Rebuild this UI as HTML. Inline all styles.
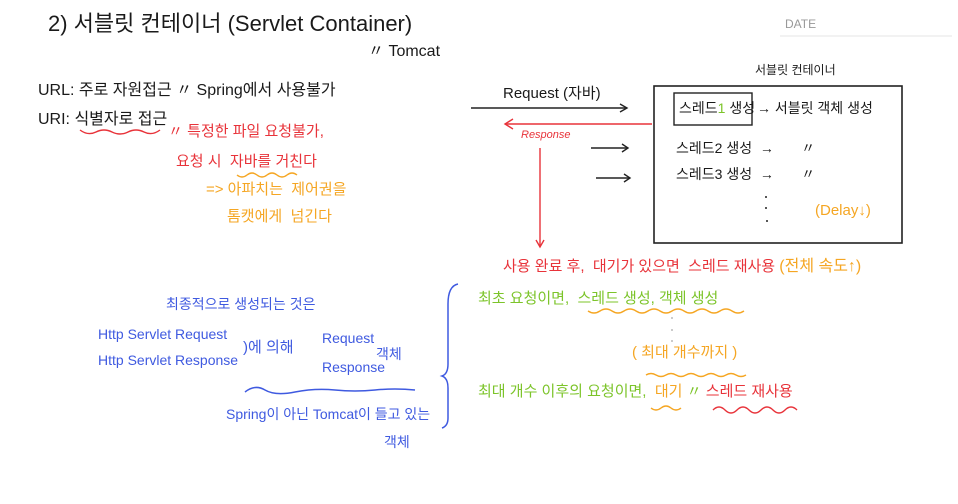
<!DOCTYPE html>
<html><head><meta charset="utf-8"><style>
body{margin:0;width:958px;height:504px;background:#fff;overflow:hidden;position:relative;font-family:"Liberation Sans","Noto Sans CJK KR",sans-serif;}
.t{position:absolute;white-space:nowrap;line-height:1;}
.k{color:#1a1a1a}.r{color:#e8333a}.o{color:#f5a623}.g{color:#7cc42a}.b{color:#3f5ae0}
svg{position:absolute;left:0;top:0}
</style></head><body>
<svg width="958" height="504">
<line x1="780" y1="36" x2="952" y2="36" stroke="#e6e6e6" stroke-width="1"/>
<rect x="654" y="86" width="248" height="157" fill="none" stroke="#222" stroke-width="1.6"/>
<rect x="674" y="93" width="78" height="32" fill="none" stroke="#222" stroke-width="1.4"/>
<g stroke="#222" stroke-width="1.4" fill="none">
<line x1="471" y1="108" x2="627" y2="108"/><polyline points="620,104 627,108 620,112"/>
<line x1="591" y1="148" x2="628" y2="148"/><polyline points="622,144 628,148 622,152"/>
<line x1="596" y1="178" x2="630" y2="178"/><polyline points="624,174 630,178 624,182"/>
</g>
<g stroke="#e8333a" stroke-width="1.4" fill="none">
<line x1="652" y1="124" x2="505" y2="124"/><polyline points="513,119 505,124 513,129"/>
<line x1="540" y1="148" x2="540" y2="247"/><polyline points="536,240 540,247 544,240"/>
<path d="M80 130 q8 6 16 2 t16 0 t16 0 t16 0 t16 -2"/>
<path d="M713 410 q6 -6 12 0 t12 0 t12 0 t12 0 t12 0 t12 0 t12 0"/>
</g>
<g stroke="#f5a623" stroke-width="1.4" fill="none">
<path d="M237 175 q5 4 10 0 t10 0 t10 0 t10 0 t10 0 t10 0"/>
<path d="M588 311 q6 4 12 0 t12 0 t12 0 t12 0 t12 0 t12 0 t12 0 t12 0 t12 0 t12 0 t12 0 t12 0 t12 0"/>
<path d="M646 375 q5 -3 10 0 t10 0 t10 0 t10 0 t10 0 t10 0 t10 0 t10 0 t10 0 t10 0"/>
<path d="M651 408 q5 4 10 0 t10 0 t10 0"/>
</g>
<g stroke="#3f5ae0" stroke-width="1.5" fill="none">
<path d="M245 392 q10 -8 20 -2 t30 2 t40 -2 t40 0 t40 0"/>
<path d="M458 284 q-10 2 -10 20 l0 60 q0 10 -6 12 q6 2 6 12 l0 30 q0 8 -6 10"/>
</g>
<g fill="#222"><circle cx="766" cy="197" r="1"/><circle cx="766" cy="208" r="1"/><circle cx="767" cy="221" r="1"/></g>
<g fill="#bbb"><circle cx="672" cy="318" r="1"/><circle cx="672" cy="330" r="1"/><circle cx="672" cy="341" r="1"/></g>
</svg>
<div class="t k" style="left:48px;top:13px;font-size:22px">2) 서블릿 컨테이너 (Servlet Container)</div>
<div class="t" style="left:785px;top:18px;font-size:12px;color:#999">DATE</div>
<div class="t k" style="left:368px;top:44px;font-size:16px">〃 Tomcat</div>
<div class="t k" style="left:38px;top:83px;font-size:16px">URL: 주로 자원접근 〃 Spring에서 사용불가</div>
<div class="t k" style="left:38px;top:112px;font-size:16px">URI: 식별자로 접근</div>
<div class="t r" style="left:168px;top:124px;font-size:15px">〃 특정한 파일 요청불가,</div>
<div class="t r" style="left:176px;top:154px;font-size:15px">요청 시 &nbsp;자바를 거친다</div>
<div class="t o" style="left:206px;top:182px;font-size:15px">=&gt; 아파치는 &nbsp;제어권을</div>
<div class="t o" style="left:227px;top:209px;font-size:15px">톰캣에게 &nbsp;넘긴다</div>
<div class="t k" style="left:755px;top:64px;font-size:12px">서블릿 컨테이너</div>
<div class="t k" style="left:503px;top:86px;font-size:15px">Request (자바)</div>
<div class="t r" style="left:521px;top:130px;font-size:11px;font-style:italic">Response</div>
<div class="t k" style="left:679px;top:101px;font-size:14px">스레드<span class="g">1</span> 생성</div>
<div class="t k" style="left:757px;top:101px;font-size:14px">→ 서블릿 객체 생성</div>
<div class="t k" style="left:676px;top:141px;font-size:14px">스레드2 생성 &nbsp;→ &nbsp;&nbsp;&nbsp;&nbsp;&nbsp;&nbsp;〃</div>
<div class="t k" style="left:676px;top:167px;font-size:14px">스레드3 생성 &nbsp;→ &nbsp;&nbsp;&nbsp;&nbsp;&nbsp;&nbsp;〃</div>
<div class="t o" style="left:815px;top:203px;font-size:15px">(Delay↓)</div>
<div class="t r" style="left:503px;top:259px;font-size:15px">사용 완료 후, &nbsp;대기가 있으면 &nbsp;스레드 재사용 <span class="o" style="font-size:16px">(전체 속도↑)</span></div>
<div class="t b" style="left:166px;top:297px;font-size:14px">최종적으로 생성되는 것은</div>
<div class="t b" style="left:98px;top:327px;font-size:14px">Http Servlet Request</div>
<div class="t b" style="left:98px;top:353px;font-size:14px">Http Servlet Response</div>
<div class="t b" style="left:243px;top:340px;font-size:15px">)에 의해</div>
<div class="t b" style="left:322px;top:331px;font-size:14px">Request</div>
<div class="t b" style="left:322px;top:360px;font-size:14px">Response</div>
<div class="t b" style="left:376px;top:347px;font-size:14px">객체</div>
<div class="t b" style="left:226px;top:407px;font-size:14px">Spring이 아닌 Tomcat이 들고 있는</div>
<div class="t b" style="left:384px;top:435px;font-size:14px">객체</div>
<div class="t g" style="left:478px;top:291px;font-size:15px">최초 요청이면, &nbsp;스레드 생성, 객체 생성</div>
<div class="t o" style="left:632px;top:345px;font-size:15px">( 최대 개수까지 )</div>
<div class="t g" style="left:478px;top:384px;font-size:15px">최대 개수 이후의 요청이면, &nbsp;<span class="o">대기</span> 〃 <span class="r">스레드 재사용</span></div>
</body></html>
